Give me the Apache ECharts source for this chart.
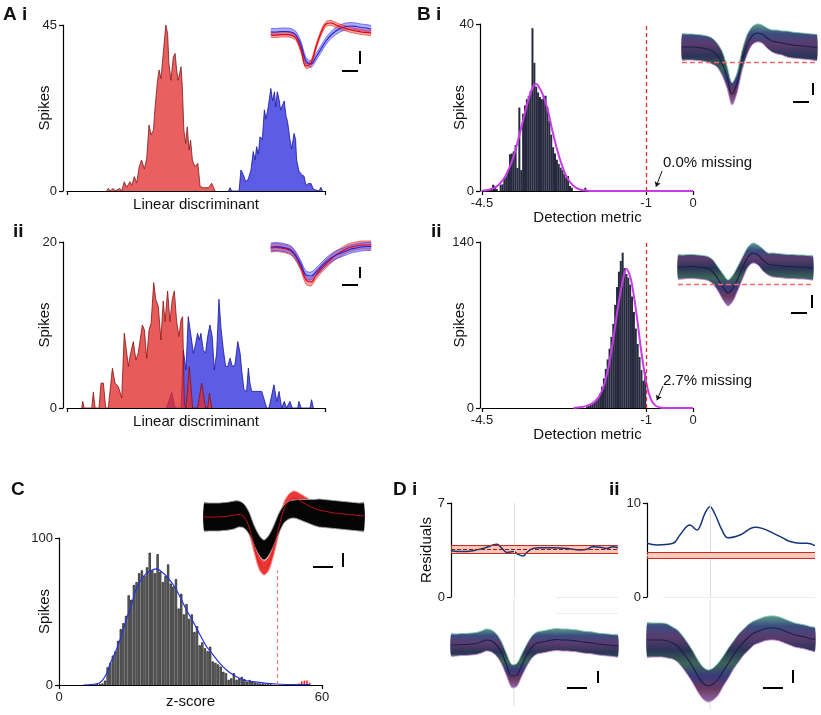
<!DOCTYPE html>
<html><head><meta charset="utf-8">
<script src="https://cdn.jsdelivr.net/npm/echarts@6/dist/echarts.min.js"></script>
<style>html,body{margin:0;padding:0;background:#fff}#c{width:821px;height:715px}</style>
</head><body><div id="c"></div>
<script>
const FONT = '"Liberation Sans", Arial, Helvetica, sans-serif';

// ---------- Panel A i : linear discriminant histograms ----------
const aiRedX = [15.4,16.0,16.7,17.9,18.6,20.5,21.2,22.2,23.1,24.4,25.1,26.1,27.0,28.0,28.9,30.0,30.9,31.8,32.6,33.5,34.1,35.1,35.7,36.4,37.3,38.3,39.0,39.5,40.3,41.2,41.9,42.5,43.1,44.2,44.7,45.3,46.0,46.6,47.3,47.9,48.6,49.6,50.7,51.6,52.8,54.8,56.1,56.7,57.4];
const aiRedY = [0,0.7,0,0.7,0,0.7,0,2.5,1,2.5,1.5,3.9,2.2,6.6,8.4,6,8.9,17.9,15.2,16.5,22.4,30,32.8,30.5,37.3,45,42.7,34.6,30,36.4,37.3,32.8,30,33.7,28.3,16.5,12.9,17.4,11.1,13.8,8.4,6.6,7.5,1.2,0.9,0.9,2.1,1.8,0];
const aiBlueX = [62.6,63.2,63.8,66.7,67.4,68.3,69.3,70.3,71.3,72.2,72.9,73.5,74.2,74.8,75.7,76.5,77.1,78.0,79.0,79.7,80.4,80.9,81.5,82.2,82.8,83.4,84.2,84.9,85.5,86.4,87.1,88.0,88.6,89.0,89.9,90.9,91.9,92.6,93.5,94.6,95.5,96.1,97.7,98.4,99.0];
const aiBlueY = [0,0.9,0,0,5.7,4.5,2.5,3.3,5.7,10.7,8.4,12,10,14.7,14,22,19.5,22.8,27.8,24.4,26.9,22.8,26.9,24.8,22,21.6,24.4,20.3,18.8,14,11.4,15.6,14,8.4,5.4,4.5,4,1.5,2,2,0.5,0,0,1,0];
const aiWaveRed  = [0,0,0.5,0.5,0,-3,-15,-31,-28,-12,2,11,12,10,8,6.5,5,4,3,2.5,2];
const aiWaveBlue = [3,3,3.5,3.5,3,0,-10,-26,-29,-22,-14,-6,0,4,7,8.5,9,8.5,7.5,7,6];
const aiWaveHalf = {red: 2.5, blue: 3.5};

// ---------- Panel A ii ----------
const aiiRedX = [5.7,6.1,6.6,9.6,10.2,10.9,12.4,13.2,14.1,15.0,16.0,17.6,18.6,19.9,21.2,22.2,22.9,23.8,24.4,25.7,26.7,27.6,29.2,30.0,30.9,31.8,32.6,33.6,34.4,35.4,36.4,37.3,38.0,39.0,39.9,40.8,41.6,42.5,43.4,44.2,44.8,45.5,46.1,47.4,48.7,50.6,52.2,53.7,54.5,55.2,56.1];
const aiiRedY = [0,0.8,0,0,1.9,0,0,3.0,3.0,0,0,4.8,3.0,2.6,1.2,9.0,9.0,5.0,6.2,8.0,5.8,6.6,10.0,9.4,6.0,9.4,10.2,15.1,13.1,12.2,8.2,12.9,10.4,14.1,10.4,13.1,14.1,10.4,8.6,10.6,11.0,0.5,0,5.0,0,0,3.0,0,0,1.8,0];
const aiiBlueX = [38.6,40.6,41.9,44.2,45.1,46.1,47.0,48.1,49.0,49.9,50.6,51.3,51.9,52.8,53.7,54.5,55.4,56.3,57.1,58.0,58.9,59.7,60.6,61.5,62.3,63.2,64.1,65.1,66.2,67.1,67.7,68.6,69.6,70.3,70.9,71.6,75.5,77.4,78.3,80.2,81.3,82.2,83.2,84.2,85.1,86.4,87.3,89.4,89.9,90.7,94.2,94.8,95.5];
const aiiBlueY = [0,1.9,0,0,7.0,4.6,11.0,8.6,6.6,7.8,9.0,8.2,9.0,7.0,6.6,8.6,10.0,8.6,4.6,6.6,13.1,9.6,7.0,5.0,5.0,6.0,5.0,5.2,8.0,6.6,4.6,2.2,2.0,4.8,3.0,2.0,2.0,0,0,2.8,0.8,2.0,0,0.8,0,0.8,0,0,0.8,0,0,1.0,0];
const aiiWaveRed  = [0,0.5,0,-1,-3,-9,-19,-32,-34,-27,-21,-16,-11,-7,-4,-1,1,2,3,3,3];
const aiiWaveBlue = [1,1.5,1,0,-2,-8,-17,-27,-28,-24,-19,-14,-10,-7,-5,-3,-1,0,1,1.5,1.5];
const aiiWaveHalf = {red: 4, blue: 4};

// ---------- Panel B i : detection metric ----------
const biBinStart = -4.40, biBinWidth = 0.04;
const biCounts = [0,0,0.5,0.5,1.5,1.2,0.5,0,1.5,1.6,3,3.5,5,8.8,9,9.5,11,5.5,20,5,18.5,20.5,22,22.8,24,39,30.7,25,23.6,22.5,22,22.8,22.8,20,16.8,13.5,10.5,9,7.5,6.5,5.6,5,4,3.2,3.6,1.2,0.8,0];
const biOutlierX = [-2.32], biOutlierY = [0.8];
const biFitX = [-4.5,-4.4,-4.3,-4.2,-4.1,-4.0,-3.9,-3.8,-3.7,-3.6,-3.5,-3.4,-3.35,-3.3,-3.2,-3.1,-3.0,-2.9,-2.8,-2.7,-2.6,-2.5,-2.4,-2.3,-2.2,-1.0,0];
const biFitY = [0.1,0.2,0.5,1,2,3.6,6,9.3,13.5,18,22.3,25.2,25.6,25.2,23,19.5,14.5,10,6.3,3.5,1.8,0.8,0.3,0.1,0,0,0];
const biWaveMean = [0,0,0,-0.5,-1,-2,-4,-8,-16,-30,-47,-36,-14,2,11,14,13,9,6,5,4,3,2,1.5,1,0.5,0,-0.5];
const biWaveHalf = [13,13,13,13,13,13,13,12,12,11,11,10,10,10,9,9,9,10,11,12,12,13,13,13,13,13,13,13];
const biThreshold = -15.7;

// ---------- Panel B ii ----------
const biiBinStart = -2.26, biiBinWidth = 0.04;
const biiCounts = [1.2,1.8,2.5,3.3,4.5,6,8.5,12,18,25,33,41,50,60,71,87,102,115,124,131,118,113,110,104,94,81,67,54,43,32,23,30];
const biiFitX = [-2.55,-2.4,-2.3,-2.2,-2.1,-2.0,-1.9,-1.8,-1.7,-1.6,-1.5,-1.42,-1.35,-1.3,-1.2,-1.1,-1.0,-0.9,-0.8,-0.7,-0.6,0];
const biiFitY = [0,0.6,1.4,2.8,5.3,10,19,35,58,85,107,117.5,112,104,78,47,22,7.5,2,0.4,0,0];
const biiWaveMean = [0,0,0.5,0.5,0,-0.5,-1.5,-5,-12,-20,-26,-21,-11,0,10,14,12,7,3,2,1.5,1,0.5,0.5,0,0,-0.5,-1];
const biiWaveHalf = [12,12,12,12,12,12,12,12,12,13,13,13,12,11,10,10,10,11,11,12,12,12,12,12,12,12,12,12];
const biiThreshold = -17;
const detTicks = [-4.5, -1, 0];
const missingText = ['0.0% missing', '2.7% missing'];

// ---------- Panel C : z-score ----------
const cBinStart = 8.3, cBinWidth = 0.6;
const cCounts = [0.3,0.5,0.5,1,3,12,15,20,23,30,38,42,47,61,58,68,70,76,78,74,80,90,78,76,89,77,70,74,82,69,67,72,52,62,48,55,45,48,36,40,27,29,25,23,26,16,15,14,12.5,9,8,3.5,4.5,8,3.5,4.5,5.5,4,2.3,3.4,2.3,1.8,1.2,1,1,0.5,0.5,0.3];
const cRedX = [54.5,55.1,55.7,56.3,56.9], cRedY = [1,2.5,3,3,1.5];
const cFitX = [5.55,7.8,9.35,10.9,11.6,13.5,15.4,16.5,17.7,19.2,20.8,22.3,23.4,24.6,26.1,27.6,29.1,30.6,32.2,33.7,35.2,36.7,38.2,39.8,42.1,44.3,47.4,50.4,57.3];
const cFitY = [0,0.5,1.5,8,14,27,45,54,66,73.7,77.5,79,77,73.7,68,60,51,43,34,26,20.4,14.7,10.2,6.8,3.4,2.3,1.1,0.5,0.2];
const cCutoff = 50, cCutoffTop = 78;
const cWaveBlack = [0,0,0,0,0.5,1,2,3,1,-6,-18,-28,-33,-28,-18,-6,3,7,8,7.5,6.5,5.5,4.5,4,3.5,3,2.5,2,1.5,1,0.5,0,0];
const cWaveBlackHalf = [14,14,14,14,14,14,14,13,12,11,10,10,10,10,10,10,9,9,9,10,11,12,13,14,14,14,14,14,14,14,14,14,14];
const cWaveRed = [0,0,0,0,0.5,1,2,2.5,0,-10,-28,-45,-51,-46,-30,-10,8,16,19,17,14,11,9,7,6,5,4,3.5,3,2.5,2,1.5,1];
const cWaveRedHalf = 7;

// ---------- Panel D : residuals ----------
const diResX = [0,7.2,13.2,19.2,25.1,27.5,30.5,33.5,37.7,40.1,43.1,45.5,49.1,53.3,61.1,69.5,77.2,81.4,85,89.2,93.4,97,100];
const diResY = [3.45,3.38,3.45,3.62,3.87,3.92,3.62,3.32,3.38,3.18,3.05,3.32,3.62,3.67,3.67,3.62,3.5,3.55,3.75,3.7,3.62,3.75,3.67];
const diBand = {center: 3.55, half: 0.32};
const diPeakT = 37.7, diWavePeakIdx = 12.45;
const diWaveMean = [0,0,0.5,0.5,1,1.5,3,5,4,0,-8,-20,-31,-30,-20,-10,-2,2,3,4,5,5.5,5,5,4.5,4,3,2.5,2,1,0.5,0,-0.5,-1];
const diWaveHalf = [11,11,11,11,11,11,11,11,11,11,11,11,11.5,11.5,11,11,11,11,11,11,11,11,11,11,11,11,11,11,11,11,11,11,11,11];
const diiResX = [0,5.8,15.5,19.6,25.6,29.8,31.5,34.5,37.5,40.5,44.6,48.2,55.4,64.3,68.5,75,81,85.1,91.1,95.2,100];
const diiResY = [5.71,5.53,5.71,6.6,7.66,7.13,7.5,8.9,9.6,8.8,7.13,6.3,6.6,7.41,7.3,6.8,6.27,5.9,5.71,5.71,5.46];
const diiBand = {center: 4.43, half: 0.32};
const diiPeakT = 37.5, diiWavePeakIdx = 12.4;
const diiWaveMean = [0,0,0,0,-1,-3,-6,-12,-19,-27,-36,-43,-46,-44,-39,-31,-23,-15,-8,-2,3,7,9,11,12,12,11,9,7,5,4,3,1.5,0.5];
const diiWaveHalf = [17,17,17,17,17,16,16,16,16,16,16,16,16,16,16,15,15,14,14,13,13,12,12,12,12,12,12,12,12,12,12,12,12,12];

// ================= building =================
const grids = [], xAxis = [], yAxis = [], series = [];
function grid(l, t, w, h, xa, ya) {
  grids.push({left: l, top: t, width: w, height: h, containLabel: false, outerBoundsMode: 'none'});
  const i = grids.length - 1;
  xAxis.push(Object.assign({gridIndex: i, type: 'value', splitLine: {show: false}}, xa));
  yAxis.push(Object.assign({gridIndex: i, type: 'value', splitLine: {show: false}}, ya));
  return i;
}
const hid = (min, max) => ({min, max, show: false});
function visY(min, max, name, gap, off) {
  return {min, max, interval: max - min, offset: off || 0, name: name || '', nameLocation: 'middle', nameGap: gap || 0,
    nameMoveOverlap: false,
    nameTextStyle: {fontSize: 15, color: '#111', fontFamily: FONT},
    axisLine: {show: true, onZero: false, lineStyle: {color: '#000', width: 1.2}},
    axisTick: {show: true, length: 4, customValues: [min, max], lineStyle: {color: '#000', width: 1.2}},
    axisLabel: {show: true, customValues: [min, max], fontSize: 13, color: '#222', margin: 6, fontFamily: FONT}};
}
function visX(min, max, ticks, showLabels, name, gap) {
  return {min, max, name: name || '', nameLocation: 'middle', nameGap: gap, nameMoveOverlap: false,
    nameTextStyle: {fontSize: 15, color: '#111', fontFamily: FONT},
    axisLine: {show: true, onZero: false, lineStyle: {color: '#000', width: 1.2}},
    axisTick: {show: true, length: 4, customValues: ticks, lineStyle: {color: '#000', width: 1.2}},
    axisLabel: {show: showLabels, customValues: ticks, fontSize: 13, color: '#222', margin: 6, fontFamily: FONT}};
}
const zip = (xs, ys) => xs.map((x, i) => [x, ys[i]]);
const bins = (start, w, ys) => ys.map((y, i) => [+(start + i * w).toFixed(3), y]);
function area(gi, xs, ys, fill, edge, z) {
  series.push({type: 'line', xAxisIndex: gi, yAxisIndex: gi, data: zip(xs, ys), symbol: 'none',
    lineStyle: {color: edge, width: 0.8}, areaStyle: {color: fill, opacity: 1}, z: z || 2, silent: true});
}
function line(gi, data, color, width, smooth, z, extra) {
  const s = {type: 'line', xAxisIndex: gi, yAxisIndex: gi, data, symbol: 'none', smooth: smooth || false,
    lineStyle: {color, width}, z: z || 3, silent: true};
  series.push(Object.assign(s, extra || {}));
  return s;
}
// band between mean-half and mean+half, drawn through the grid's axes
function band(gi, mean, half, fill, edgeTop, edgeBot, z, extra) {
  const h = i => Array.isArray(half) ? half[i] : half;
  const up = mean.map((m, i) => [i, m + h(i)]);
  const lo = mean.map((m, i) => [i, m - h(i)]);
  const s = {type: 'custom', xAxisIndex: gi, yAxisIndex: gi, data: [[0, 0]], z: z || 2, silent: true,
    renderItem: (params, api) => {
      const pu = up.map(p => api.coord(p));
      const pl = lo.map(p => api.coord(p));
      return {type: 'group', children: [
        {type: 'polygon', shape: {points: pu.concat(pl.slice().reverse()), smooth: 0.25}, style: {fill: fill, stroke: null}},
        {type: 'polyline', shape: {points: pu, smooth: 0.3}, style: {stroke: edgeTop, lineWidth: 0.9, fill: null}},
        {type: 'polyline', shape: {points: pl, smooth: 0.3}, style: {stroke: edgeBot, lineWidth: 0.9, fill: null}}
      ]};
    }};
  series.push(Object.assign(s, extra || {}));
}
const bundleFill = () => new echarts.graphic.LinearGradient(0, 0, 0, 1, [
  {offset: 0, color: '#5a9a8c'}, {offset: 0.12, color: '#3b4c80'}, {offset: 0.25, color: '#5b3b6e'},
  {offset: 0.4, color: '#2a3556'}, {offset: 0.55, color: '#3c6458'}, {offset: 0.7, color: '#3a3a7c'},
  {offset: 0.85, color: '#6a3a5e'}, {offset: 1, color: '#8d6aac'}]);

// ---- A i ----
const gAi = grid(67, 25, 258, 166, visX(0, 100, [0, 100], false, 'Linear discriminant', 6), visY(0, 45, 'Spikes', 11, 4));
area(gAi, aiRedX, aiRedY, '#ea5f5f', '#7a1a1a');
area(gAi, aiBlueX, aiBlueY, '#5c5ce6', '#15159a');
const gAiIn = grid(271, 20, 100, 52, hid(0, 20), hid(-37, 15));
band(gAiIn, aiWaveBlue, aiWaveHalf.blue, 'rgba(90,90,245,0.5)', 'rgba(60,60,220,0.7)', 'rgba(60,60,220,0.7)', 2);
band(gAiIn, aiWaveRed, aiWaveHalf.red, 'rgba(245,70,70,0.45)', 'rgba(230,40,40,0.7)', 'rgba(230,40,40,0.7)', 3);
line(gAiIn, aiWaveBlue.map((v, i) => [i, v]), '#2525d8', 1.2, 0.4, 4);
line(gAiIn, aiWaveRed.map((v, i) => [i, v]), '#ee0000', 1.2, 0.4, 4);

// ---- A ii ----
const gAii = grid(67, 242, 258, 166, visX(0, 100, [0, 100], false, 'Linear discriminant', 6), visY(0, 20, 'Spikes', 11, 4));
area(gAii, aiiBlueX, aiiBlueY, '#5c5ce6', '#15159a', 2);
area(gAii, aiiRedX, aiiRedY, 'rgba(225,45,45,0.78)', '#8a1010', 3);
const gAiiIn = grid(271, 240, 100, 53, hid(0, 20), hid(-45, 8));
band(gAiiIn, aiiWaveRed, aiiWaveHalf.red, 'rgba(245,70,70,0.5)', 'rgba(230,40,40,0.7)', 'rgba(230,40,40,0.7)', 2);
band(gAiiIn, aiiWaveBlue, aiiWaveHalf.blue, 'rgba(90,90,245,0.5)', 'rgba(60,60,220,0.7)', 'rgba(60,60,220,0.7)', 3);
line(gAiiIn, aiiWaveRed.map((v, i) => [i, v]), '#ee0000', 1.2, 0.4, 4);
line(gAiiIn, aiiWaveBlue.map((v, i) => [i, v]), '#2525d8', 1.2, 0.4, 4);

// ---- B i / B ii ----
function detPanel(top, h, ymax, binStart, binW, counts, fitX, fitY, arrow) {
  const g = grid(482, top, 211, h, visX(-4.5, 0, detTicks, true, 'Detection metric', 19), visY(0, ymax, 'Spikes', 13, 2));
  series.push({type: 'bar', xAxisIndex: g, yAxisIndex: g, data: bins(binStart, binW, counts), barWidth: 2.0,
    itemStyle: {color: '#272a3f'}, silent: true, z: 2});
  line(g, zip(fitX, fitY), '#c83ce8', 2, 0.35, 4, {
    markLine: {silent: true, symbol: 'none', animation: false, label: {show: false},
      data: [
        {xAxis: -1, lineStyle: {color: '#e62a2a', type: [4, 3], width: 1.3}},
        [{coord: arrow[0], symbol: 'none', lineStyle: {color: '#111', width: 1, type: 'solid'}},
         {coord: arrow[1], symbol: 'arrow', symbolSize: 5}]
      ]}});
  return g;
}
const gBi = detPanel(24, 167, 40, biBinStart, biBinWidth, biCounts, biFitX, biFitY, [[-0.66, 4.8], [-0.79, 1.0]]);
series.push({type: 'bar', xAxisIndex: gBi, yAxisIndex: gBi, data: zip(biOutlierX, biOutlierY), barWidth: 2, itemStyle: {color: '#272a3f'}, silent: true});
const gBii = detPanel(242, 166, 140, biiBinStart, biiBinWidth, biiCounts, biiFitX, biiFitY, [[-0.64, 18.6], [-0.77, 6.5]]);

function detInset(l, t, w, h, ymin, ymax, mean, half, thr) {
  const g = grid(l, t, w, h, hid(0, mean.length - 1), hid(ymin, ymax));
  band(g, mean, half, bundleFill(), '#7cc8a8', '#c88ad8', 2);
  line(g, mean.map((v, i) => [i, v]), '#1b1f4a', 1.2, 0.4, 3, {
    markLine: {silent: true, symbol: 'none', animation: false, label: {show: false},
      data: [{yAxis: thr, lineStyle: {color: '#f06a6a', type: [5, 3], width: 1.3}}]}});
  return g;
}
detInset(682, 20, 135, 90, -63, 27, biWaveMean, biWaveHalf, biThreshold);
detInset(678, 238, 135, 75, -46, 29, biiWaveMean, biiWaveHalf, biiThreshold);

// ---- C ----
const gC = grid(59, 538, 263, 147, visX(0, 60, [0, 60], true, 'z-score', 9), visY(0, 100, 'Spikes', 7, 0));
series.push({type: 'bar', xAxisIndex: gC, yAxisIndex: gC, data: bins(cBinStart, cBinWidth, cCounts), barWidth: 2.2,
  itemStyle: {color: '#6e6e6e', borderColor: '#000', borderWidth: 0.6}, silent: true, z: 2,
  markLine: {silent: true, symbol: 'none', animation: false, label: {show: false},
    data: [[{coord: [cCutoff, 0]}, {coord: [cCutoff, cCutoffTop]}]], lineStyle: {color: '#f07a7a', type: [4, 3], width: 1.2}}});
series.push({type: 'bar', xAxisIndex: gC, yAxisIndex: gC, data: zip(cRedX, cRedY), barWidth: 1.6,
  itemStyle: {color: '#ee2222'}, silent: true, z: 2});
line(gC, zip(cFitX, cFitY), '#2233dd', 1.2, 0.4, 4);
const gCin = grid(204, 495, 160, 85, hid(0, cWaveBlack.length - 1), hid(-63, 22));
band(gCin, cWaveRed, cWaveRedHalf, 'rgba(230,20,20,0.85)', '#ff9090', '#ff9090', 2);
band(gCin, cWaveBlack, cWaveBlackHalf, '#050505', '#a0a0a0', '#a0a0a0', 3);
line(gCin, cWaveRed.map((v, i) => [i, v]), 'rgba(235,20,20,0.9)', 0.9, 0.4, 4);

// ---- D ----
function resPanel(l, w, ymax, name, xs, ys, bd, peakT) {
  const g = grid(l, 503, w, 94, hid(0, 100), visY(0, ymax, name, 17, 0));
  const lo = +(bd.center - bd.half).toFixed(2), hi = +(bd.center + bd.half).toFixed(2);
  line(g, zip(xs, ys), '#15357a', 1.5, 0.4, 4, {
    markArea: {silent: true, itemStyle: {color: 'rgba(240,140,115,0.5)'}, data: [[{yAxis: lo}, {yAxis: hi}]]},
    markLine: {silent: true, symbol: 'none', animation: false, label: {show: false},
      data: [
        {xAxis: peakT, lineStyle: {color: '#dedede', width: 1, type: 'solid'}},
        {yAxis: lo, lineStyle: {color: '#cc2a1a', width: 1.2, type: 'solid'}},
        {yAxis: hi, lineStyle: {color: '#cc2a1a', width: 1.2, type: 'solid'}},
        {yAxis: bd.center, lineStyle: {color: name ? '#9a1a10' : '#f7d4c8', width: 1.2, type: [4, 2]}}
      ]}});
  return g;
}
resPanel(451, 167, 7, 'Residuals', diResX, diResY, diBand, diPeakT);
resPanel(647, 168, 10, '', diiResX, diiResY, diiBand, diiPeakT);
function wavePanel(l, w, t, h, ymin, ymax, mean, half, peakIdx) {
  const g = grid(l, t, w, h, hid(0, mean.length - 1), hid(ymin, ymax));
  line(g, [[peakIdx, ymin], [peakIdx, ymax]], '#dedede', 1, false, 1);
  band(g, mean, half, bundleFill(), '#7cc8a8', '#c88ad8', 2);
  line(g, mean.map((v, i) => [i, v]), '#1b1f4a', 1.2, 0.4, 3);
}
wavePanel(451, 167, 600, 106, -61, 45, diWaveMean, diWaveHalf, diWavePeakIdx);
wavePanel(647, 168, 600, 110, -70, 40, diiWaveMean, diiWaveHalf, diiWavePeakIdx);

// ---- graphics: panel labels, annotations, scale bars ----
const lab = (text, x, y) => ({type: 'text', x, y, silent: true,
  style: {text, font: 'bold 19px ' + FONT, fill: '#111', textVerticalAlign: 'middle'}});
const txt = (text, x, y) => ({type: 'text', x, y, silent: true,
  style: {text, font: '15px ' + FONT, fill: '#111', textVerticalAlign: 'middle'}});
const bar = (x1, y1, x2, y2, c, w) => ({type: 'line', silent: true, shape: {x1, y1, x2, y2},
  style: {stroke: c || '#000', lineWidth: w || 2}});
const graphic = [
  lab('A i', 3, 15), lab('ii', 13, 232), lab('B i', 417, 15), lab('ii', 431, 232),
  lab('C', 11, 490), lab('D i', 393, 490), lab('ii', 609, 490),
  txt(missingText[0], 663, 163), txt(missingText[1], 663, 381),
  bar(342, 71, 358, 71), bar(360, 51, 360, 64),
  bar(342, 285, 358, 285), bar(360, 267, 360, 278),
  bar(793, 102, 809, 102), bar(813, 83, 813, 95),
  bar(791, 313, 807, 313), bar(812, 295, 812, 308),
  bar(313, 567, 333, 567), bar(343, 553, 343, 567),
  bar(567, 688, 587, 688), bar(598, 671, 598, 683),
  bar(763, 688, 783, 688), bar(793, 670, 793, 683),
  bar(555, 597.5, 618, 597.5, '#ececec', 1), bar(663, 597.5, 815, 597.5, '#ececec', 1),
  bar(555, 613.5, 618, 613.5, '#f0f0f0', 1)
];

const chart = echarts.init(document.getElementById('c'), null, {renderer: 'canvas'});
chart.setOption({
  animation: false, backgroundColor: '#fff',
  textStyle: {fontFamily: FONT},
  grid: grids, xAxis, yAxis, series, graphic
});
</script></body></html>
